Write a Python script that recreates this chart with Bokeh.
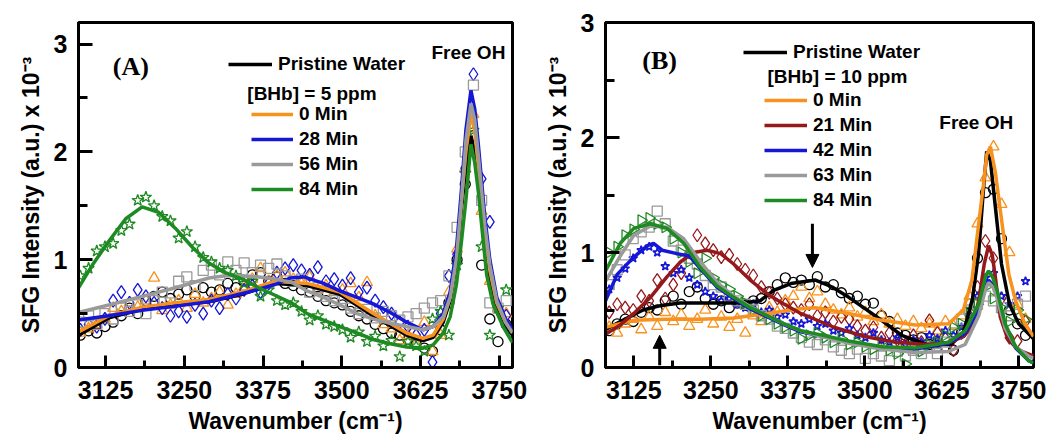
import numpy as np
from bokeh.plotting import figure
from bokeh.layouts import row
from bokeh.models import Range1d, FixedTicker, Legend, LegendItem, Label, Arrow, NormalHead
from bokeh.embed import file_html
from bokeh.resources import INLINE

# ---------------- data ----------------
X_TICKS = [3125, 3250, 3375, 3500, 3625, 3750]
X_MINOR = [3187.5, 3312.5, 3437.5, 3562.5, 3687.5]
Y_TICKS = [0, 1, 2, 3]
Y_MINOR = [0.5, 1.5, 2.5]

# measured points (shared wavenumber grid)
SX = [3085, 3098, 3111, 3124, 3137, 3150, 3163, 3176, 3189, 3202,
      3215, 3228, 3241, 3254, 3267, 3280, 3293, 3306, 3319, 3332,
      3345, 3358, 3371, 3384, 3397, 3410, 3423, 3436, 3449, 3462,
      3475, 3488, 3501, 3514, 3527, 3540, 3553, 3566, 3579, 3592,
      3605, 3618, 3631, 3644, 3657, 3670, 3683, 3696, 3709, 3722,
      3735, 3748, 3761]

# Panel A : [BHb] = 5 ppm
A_PRISTINE = [0.30, 0.34, 0.32, 0.38, 0.42, 0.48, 0.55, 0.50, 0.62, 0.66,
              0.70, 0.64, 0.68, 0.72, 0.66, 0.74, 0.70, 0.72, 0.78, 0.74,
              0.80, 0.86, 0.88, 0.80, 0.84, 0.78, 0.76, 0.72, 0.70, 0.66,
              0.62, 0.60, 0.58, 0.52, 0.48, 0.45, 0.40, 0.36, 0.32, 0.30,
              0.26, 0.22, 0.18, 0.15, 0.35, 0.60, 1.00, 1.70, 2.15, 0.95,
              0.45, 0.24, 0.40]
A_0MIN = [0.32, 0.36, 0.40, 0.45, 0.55, 0.52, 0.60, 0.56, 0.62, 0.83,
          0.53, 0.58, 0.62, 0.55, 0.68, 0.60, 0.64, 0.70, 0.58, 0.68,
          0.75, 0.82, 0.92, 0.80, 0.85, 0.88, 0.82, 0.78, 0.84, 0.72,
          0.76, 0.70, 0.72, 0.78, 0.65, 0.79, 0.48, 0.40, 0.36, 0.25,
          0.30, 0.22, 0.42, 0.15, 0.30, 0.70, 1.10, 1.85, 2.35, 1.45,
          0.80, 0.55, 0.50]
A_28MIN = [0.35, 0.40, 0.38, 0.45, 0.62, 0.70, 0.60, 0.72, 0.66, 0.60,
           0.55, 0.48, 0.52, 0.47, 0.58, 0.50, 0.62, 0.55, 0.68, 0.64,
           0.72, 0.76, 0.70, 0.78, 0.88, 0.92, 0.95, 0.90, 0.86, 0.93,
           0.80, 0.82, 0.76, 0.83, 0.70, 0.74, 0.62, 0.56, 0.50, 0.42,
           0.38, 0.30, 0.35, 0.05, 0.50, 0.85, 1.05, 1.85, 2.72, 1.75,
           1.35, 0.55, 0.48]
A_56MIN = [0.42, 0.48, 0.40, 0.50, 0.45, 0.55, 0.52, 0.58, 0.50, 0.62,
           0.70, 0.60, 0.80, 0.84, 0.76, 0.90, 0.95, 0.86, 0.98, 0.90,
           0.97, 0.88, 0.95, 0.92, 0.96, 0.85, 0.80, 0.82, 0.70, 0.74,
           0.66, 0.62, 0.64, 0.55, 0.50, 0.54, 0.46, 0.52, 0.48, 0.44,
           0.47, 0.50, 0.55, 0.60, 0.62, 0.85, 1.30, 2.00, 2.62, 1.55,
           0.60, 0.55, 0.62]
A_84MIN = [0.85, 0.92, 1.08, 1.12, 1.15, 1.27, 1.33, 1.55, 1.58, 1.50,
           1.40, 1.36, 1.20, 1.26, 1.12, 1.02, 0.98, 0.92, 0.90, 0.85,
           0.78, 0.80, 0.66, 0.72, 0.62, 0.58, 0.60, 0.52, 0.44, 0.48,
           0.40, 0.38, 0.35, 0.28, 0.33, 0.24, 0.29, 0.20, 0.25, 0.10,
           0.24, 0.20, 0.15, 0.45, 0.52, 0.30, 0.95, 1.80, 2.20, 1.12,
           0.30, 0.55, 0.72]

# Panel A fitted curves
AF_X1 = [3082, 3130, 3183, 3236, 3289, 3342, 3394, 3445, 3497, 3550,
         3603, 3629, 3645, 3661, 3672, 3682, 3690, 3697, 3705, 3711,
         3717, 3727, 3735, 3746, 3760, 3771]
AF_PRISTINE = [0.30, 0.46, 0.54, 0.58, 0.61, 0.68, 0.78, 0.76, 0.68, 0.48,
               0.30, 0.25, 0.28, 0.42, 0.62, 0.97, 1.48, 1.85, 2.15, 2.00,
               1.70, 1.15, 0.82, 0.55, 0.38, 0.30]
AF_0MIN = [0.33, 0.48, 0.56, 0.60, 0.63, 0.70, 0.80, 0.78, 0.70, 0.50,
           0.32, 0.27, 0.30, 0.45, 0.65, 1.00, 1.55, 2.00, 2.35, 2.20,
           1.85, 1.25, 0.90, 0.60, 0.42, 0.33]
AF_X28 = [3082, 3130, 3183, 3225, 3289, 3352, 3394, 3418, 3440, 3471,
          3497, 3524, 3550, 3577, 3603, 3629, 3645, 3661, 3672, 3682,
          3690, 3697, 3705, 3711, 3717, 3727, 3735, 3746, 3760, 3771]
AF_28MIN = [0.44, 0.48, 0.53, 0.56, 0.61, 0.70, 0.77, 0.83, 0.84, 0.78,
            0.71, 0.65, 0.59, 0.51, 0.42, 0.35, 0.38, 0.50, 0.70, 1.10,
            1.65, 2.20, 2.57, 2.40, 2.05, 1.40, 1.00, 0.65, 0.45, 0.35]
AF_X56 = [3082, 3130, 3183, 3236, 3289, 3315, 3342, 3368, 3394, 3420,
          3445, 3471, 3497, 3524, 3550, 3577, 3603, 3629, 3645, 3661,
          3672, 3682, 3690, 3697, 3705, 3711, 3717, 3727, 3735, 3746,
          3760, 3771]
AF_56MIN = [0.51, 0.58, 0.66, 0.74, 0.83, 0.85, 0.85, 0.84, 0.82, 0.79,
            0.71, 0.65, 0.58, 0.50, 0.45, 0.41, 0.38, 0.35, 0.38, 0.47,
            0.65, 1.01, 1.55, 2.10, 2.45, 2.30, 1.95, 1.32, 0.95, 0.62,
            0.42, 0.32]
AF_X84 = [3082, 3104, 3130, 3157, 3183, 3209, 3236, 3262, 3289, 3315,
          3342, 3368, 3394, 3420, 3445, 3471, 3497, 3524, 3550, 3577,
          3603, 3629, 3645, 3661, 3672, 3682, 3690, 3697, 3705, 3711,
          3717, 3722, 3730, 3740, 3756, 3771]
AF_84MIN = [0.74, 0.95, 1.17, 1.38, 1.49, 1.44, 1.29, 1.12, 0.97, 0.88,
            0.82, 0.74, 0.67, 0.60, 0.50, 0.44, 0.38, 0.32, 0.26, 0.22,
            0.19, 0.18, 0.21, 0.32, 0.47, 0.77, 1.17, 1.55, 2.07, 1.90,
            1.62, 1.32, 0.86, 0.59, 0.38, 0.23]

# Panel B : [BHb] = 10 ppm
B_PRISTINE = [0.32, 0.38, 0.42, 0.40, 0.48, 0.52, 0.50, 0.58, 0.62, 0.55,
              0.66, 0.70, 0.60, 0.55, 0.58, 0.52, 0.56, 0.54, 0.58, 0.60,
              0.66, 0.72, 0.78, 0.74, 0.76, 0.72, 0.79, 0.70, 0.72, 0.65,
              0.60, 0.62, 0.55, 0.56, 0.45, 0.40, 0.30, 0.28, 0.24, 0.26,
              0.20, 0.22, 0.18, 0.15, 0.30, 0.55, 0.95, 1.52, 1.55, 1.12,
              0.50, 0.38, 0.28]
B_0MIN = [0.35, 0.30, 0.38, 0.42, 0.33, 0.44, 0.36, 0.48, 0.40, 0.46,
          0.36, 0.42, 0.50, 0.38, 0.44, 0.35, 0.42, 0.30, 0.45, 0.40,
          0.52, 0.48, 0.58, 0.62, 0.70, 0.60, 0.66, 0.55, 0.50, 0.46,
          0.52, 0.44, 0.48, 0.40, 0.46, 0.38, 0.42, 0.36, 0.40, 0.34,
          0.38, 0.32, 0.40, 0.36, 0.45, 0.62, 1.25, 1.65, 1.92, 1.42,
          1.00, 0.55, 0.42]
B_21MIN = [0.48, 0.55, 0.52, 0.50, 0.62, 0.58, 0.76, 0.60, 0.72, 0.82,
           1.00, 1.15, 1.08, 1.02, 0.96, 0.98, 0.90, 0.85, 0.80, 0.70,
           0.65, 0.60, 0.55, 0.52, 0.50, 0.55, 0.45, 0.48, 0.40, 0.44,
           0.42, 0.36, 0.32, 0.35, 0.26, 0.30, 0.24, 0.20, 0.28, 0.22,
           0.41, 0.30, 0.25, 0.15, 0.30, 0.45, 0.70, 1.10, 0.95, 0.60,
           0.26, 0.23, 0.40]
B_42MIN = [0.68, 0.78, 0.86, 0.95, 1.02, 1.05, 1.00, 0.88, 0.82, 0.85,
           0.78, 0.72, 0.66, 0.62, 0.58, 0.60, 0.55, 0.52, 0.55, 0.48,
           0.50, 0.44, 0.46, 0.40, 0.38, 0.42, 0.36, 0.38, 0.32, 0.30,
           0.34, 0.28, 0.26, 0.30, 0.24, 0.22, 0.26, 0.20, 0.24, 0.22,
           0.28, 0.25, 0.32, 0.28, 0.35, 0.45, 0.62, 0.78, 0.82, 0.62,
           0.55, 0.62, 0.75]
B_63MIN = [0.72, 0.85, 0.98, 1.12, 1.18, 1.22, 1.36, 1.25, 1.10, 1.02,
           0.95, 0.90, 0.80, 0.72, 0.70, 0.62, 0.58, 0.55, 0.50, 0.45,
           0.42, 0.36, 0.34, 0.30, 0.26, 0.22, 0.20, 0.24, 0.18, 0.15,
           0.12, 0.16, 0.08, 0.12, 0.10, 0.06, 0.14, 0.10, 0.15, 0.12,
           0.18, 0.12, 0.22, 0.30, 0.42, 0.50, 0.55, 0.62, 0.58, 0.52,
           0.45, 0.55, 0.62]
B_84MIN = [1.00, 1.05, 1.15, 1.20, 1.28, 1.30, 1.25, 1.22, 1.12, 1.00,
           0.92, 0.82, 0.95, 0.78, 0.72, 0.68, 0.62, 0.56, 0.50, 0.45,
           0.42, 0.38, 0.35, 0.32, 0.25, 0.28, 0.30, 0.26, 0.22, 0.25,
           0.20, 0.22, 0.18, 0.16, 0.22, 0.15, 0.12, 0.03, 0.18, 0.14,
           0.20, 0.22, 0.28, 0.35, 0.38, 0.48, 0.55, 0.70, 0.60, 0.52,
           0.40, 0.50, 0.42]

# Panel B fitted curves
BF_XP = [3079, 3110, 3140, 3170, 3200, 3250, 3300, 3330, 3352, 3380,
         3420, 3447, 3474, 3501, 3530, 3560, 3600, 3640, 3660, 3675,
         3685, 3692, 3698, 3704, 3712, 3722, 3735, 3750, 3774]
BF_PRISTINE = [0.33, 0.42, 0.50, 0.54, 0.56, 0.56, 0.56, 0.58, 0.67, 0.73,
               0.76, 0.70, 0.61, 0.51, 0.40, 0.28, 0.20, 0.20, 0.30, 0.60,
               1.00, 1.50, 1.88, 1.80, 1.40, 0.90, 0.55, 0.38, 0.25]
BF_X0 = [3079, 3125, 3179, 3233, 3287, 3342, 3396, 3420, 3474, 3528,
         3582, 3636, 3660, 3674, 3685, 3693, 3698, 3704, 3712, 3723,
         3734, 3745, 3760, 3774]
BF_0MIN = [0.35, 0.41, 0.42, 0.42, 0.43, 0.47, 0.51, 0.52, 0.47, 0.41,
           0.37, 0.38, 0.50, 0.76, 1.25, 1.60, 1.85, 1.92, 1.70, 1.25,
           0.81, 0.58, 0.38, 0.27]
BF_X21 = [3079, 3103, 3125, 3152, 3179, 3201, 3222, 3244, 3266, 3287,
          3314, 3342, 3363, 3396, 3450, 3500, 3550, 3600, 3640, 3660,
          3674, 3685, 3694, 3701, 3707, 3712, 3720, 3732, 3750, 3774]
BF_21MIN = [0.29, 0.37, 0.47, 0.61, 0.79, 0.92, 1.00, 1.02, 0.99, 0.90,
            0.76, 0.64, 0.57, 0.47, 0.35, 0.27, 0.22, 0.20, 0.22, 0.27,
            0.35, 0.58, 0.90, 1.06, 0.98, 0.79, 0.44, 0.25, 0.15, 0.10]
BF_X42 = [3079, 3098, 3125, 3147, 3157, 3171, 3195, 3215, 3233, 3260,
          3287, 3314, 3342, 3369, 3396, 3423, 3474, 3528, 3582, 3636,
          3663, 3685, 3696, 3701, 3708, 3715, 3728, 3745, 3766, 3774]
BF_42MIN = [0.58, 0.81, 0.96, 1.06, 1.08, 1.02, 0.99, 0.97, 0.86, 0.70,
            0.60, 0.51, 0.44, 0.37, 0.31, 0.28, 0.22, 0.17, 0.16, 0.21,
            0.30, 0.50, 0.72, 0.76, 0.72, 0.62, 0.35, 0.17, 0.06, 0.04]
BF_X63 = [3079, 3103, 3125, 3152, 3179, 3206, 3233, 3260, 3287, 3314,
          3342, 3369, 3396, 3423, 3474, 3528, 3582, 3636, 3663, 3685,
          3696, 3701, 3708, 3715, 3728, 3745, 3766, 3774]
BF_63MIN = [0.75, 0.97, 1.15, 1.23, 1.22, 1.12, 0.92, 0.74, 0.62, 0.53,
            0.45, 0.38, 0.32, 0.28, 0.21, 0.16, 0.13, 0.14, 0.20, 0.45,
            0.68, 0.74, 0.70, 0.60, 0.34, 0.18, 0.10, 0.08]
BF_84MIN = [0.84, 1.08, 1.21, 1.25, 1.21, 1.08, 0.87, 0.71, 0.61, 0.52,
            0.45, 0.38, 0.32, 0.29, 0.23, 0.18, 0.17, 0.22, 0.32, 0.55,
            0.79, 0.84, 0.78, 0.67, 0.38, 0.18, 0.06, 0.04]

# ---------------- style ----------------
BLACK = "#000000"
ORANGE = "#F7921E"
BLUE = "#1616D6"
GRAY = "#9A9A9A"
GREEN = "#1E8A22"
DARKRED = "#94191B"
FONT = "Liberation Sans"
LW = 3.5


def make_fig(width, xr, yr, left, right, top, bottom):
    p = figure(width=width, height=444, x_range=Range1d(*xr), y_range=Range1d(*yr),
               output_backend="svg", toolbar_location=None,
               min_border_left=left, min_border_right=right,
               min_border_top=top, min_border_bottom=bottom)
    p.background_fill_color = "white"
    p.border_fill_color = "white"
    p.xgrid.visible = False
    p.ygrid.visible = False
    p.outline_line_color = "black"
    p.outline_line_width = 3
    p.outline_line_alpha = 1
    p.xaxis.ticker = FixedTicker(ticks=X_TICKS, minor_ticks=X_MINOR)
    p.yaxis.ticker = FixedTicker(ticks=Y_TICKS, minor_ticks=Y_MINOR)
    p.xaxis.axis_label = "Wavenumber (cm\u207b\u00b9)"
    p.yaxis.axis_label = "SFG Intensity (a.u.) x 10\u207b\u00b3"
    for ax in (p.xaxis[0], p.yaxis[0]):
        ax.axis_line_width = 3
        ax.major_tick_line_width = 3
        ax.minor_tick_line_width = 3
        ax.major_tick_out = 0
        ax.minor_tick_out = 0
        ax.major_label_text_font = FONT
        ax.major_label_text_font_style = "bold"
        ax.major_label_text_font_size = "25px"
        ax.major_label_text_color = "black"
        ax.axis_label_text_font = FONT
        ax.axis_label_text_font_style = "bold"
        ax.axis_label_text_font_size = "23px"
        ax.axis_label_text_color = "black"
    p.xaxis.major_tick_in = 12
    p.xaxis.minor_tick_in = 7
    p.yaxis.major_tick_in = 14
    p.yaxis.minor_tick_in = 9
    p.xaxis.major_label_standoff = 13
    p.xaxis.axis_label_standoff = 6
    p.yaxis.major_label_standoff = 11
    p.yaxis.axis_label_standoff = 7
    return p


def style_legend(lg, gw):
    lg.glyph_width = gw
    lg.glyph_height = 20
    lg.label_height = 20
    lg.label_standoff = 6
    lg.spacing = 3
    lg.padding = 0
    lg.margin = 0
    lg.border_line_alpha = 0
    lg.background_fill_alpha = 0
    lg.label_text_font = FONT
    lg.label_text_font_style = "bold"
    lg.label_text_font_size = "19px"
    lg.label_text_color = "black"


def text_label(p, x, y, txt, size="19px", font=FONT, align="left"):
    p.add_layout(Label(x=x, y=y, text=txt, text_font=font, text_font_style="bold",
                       text_font_size=size, text_align=align, text_baseline="middle",
                       text_color="black"))


def open_marks(p, ys, marker, color, size, angle=0.0, lw=1.3):
    p.scatter(SX, ys, marker=marker, size=size, angle=angle, fill_color=None,
              line_color=color, line_width=lw)


# ---------------- panel A ----------------
pA = make_fig(540, (3082, 3771), (0, 3.2), 78, 28, 15, 76)
open_marks(pA, A_PRISTINE, "circle", BLACK, 10)
open_marks(pA, A_0MIN, "triangle", ORANGE, 11)
open_marks(pA, A_28MIN, "diamond", BLUE, 13)
open_marks(pA, A_56MIN, "square", GRAY, 10)
open_marks(pA, A_84MIN, "star", GREEN, 12)
rA_p = pA.line(AF_X1, AF_PRISTINE, line_color=BLACK, line_width=LW)
rA_0 = pA.line(AF_X1, AF_0MIN, line_color=ORANGE, line_width=LW)
rA_28 = pA.line(AF_X28, AF_28MIN, line_color=BLUE, line_width=LW)
rA_56 = pA.line(AF_X56, AF_56MIN, line_color=GRAY, line_width=LW)
rA_84 = pA.line(AF_X84, AF_84MIN, line_color=GREEN, line_width=LW)

lgA1 = Legend(items=[LegendItem(label="Pristine Water", renderers=[rA_p])], location=(150, 292))
style_legend(lgA1, 44)
lgA2 = Legend(items=[LegendItem(label="0 Min", renderers=[rA_0]),
                     LegendItem(label="28 Min", renderers=[rA_28]),
                     LegendItem(label="56 Min", renderers=[rA_56]),
                     LegendItem(label="84 Min", renderers=[rA_84])], location=(173, 167))
style_legend(lgA2, 42)
pA.add_layout(lgA1)
pA.add_layout(lgA2)
text_label(pA, 3350, 2.54, "[BHb] = 5 ppm")
text_label(pA, 3701, 2.92, "Free OH", align="center")
text_label(pA, 3165, 2.79, "(A)", size="26px", font="Liberation Serif", align="center")

# ---------------- panel B ----------------
pB = make_fig(507, (3079, 3774), (0, 3.0), 65, 14, 22, 77)
open_marks(pB, B_PRISTINE, "circle", BLACK, 10)
open_marks(pB, B_0MIN, "triangle", ORANGE, 11)
open_marks(pB, B_21MIN, "diamond", DARKRED, 13)
open_marks(pB, B_42MIN, "star", BLUE, 9, lw=1.6)
open_marks(pB, B_63MIN, "square", GRAY, 10)
open_marks(pB, B_84MIN, "triangle", GREEN, 11, angle=-np.pi / 2)
rB_p = pB.line(BF_XP, BF_PRISTINE, line_color=BLACK, line_width=LW)
rB_0 = pB.line(BF_X0, BF_0MIN, line_color=ORANGE, line_width=LW)
rB_21 = pB.line(BF_X21, BF_21MIN, line_color=DARKRED, line_width=LW)
rB_42 = pB.line(BF_X42, BF_42MIN, line_color=BLUE, line_width=LW)
rB_63 = pB.line(BF_X63, BF_63MIN, line_color=GRAY, line_width=LW)
rB_84 = pB.line(BF_X63, BF_84MIN, line_color=GREEN, line_width=LW)

lgB1 = Legend(items=[LegendItem(label="Pristine Water", renderers=[rB_p])], location=(138, 304))
style_legend(lgB1, 44)
lgB2 = Legend(items=[LegendItem(label="0 Min", renderers=[rB_0]),
                     LegendItem(label="21 Min", renderers=[rB_21]),
                     LegendItem(label="42 Min", renderers=[rB_42]),
                     LegendItem(label="63 Min", renderers=[rB_63]),
                     LegendItem(label="84 Min", renderers=[rB_84])], location=(159, 156))
style_legend(lgB2, 43)
pB.add_layout(lgB1)
pB.add_layout(lgB2)
text_label(pB, 3342, 2.53, "[BHb] = 10 ppm")
text_label(pB, 3681, 2.13, "Free OH", align="center")
text_label(pB, 3167, 2.67, "(B)", size="26px", font="Liberation Serif", align="center")

pB.add_layout(Arrow(end=NormalHead(size=13, fill_color="black", line_color="black"),
                    x_start=3415, y_start=1.25, x_end=3415, y_end=0.87,
                    line_width=3, line_color="black"))
pB.add_layout(Arrow(end=NormalHead(size=13, fill_color="black", line_color="black"),
                    x_start=3167, y_start=0.02, x_end=3167, y_end=0.28,
                    line_width=3, line_color="black"))

layout = row(pA, pB)
open("out.html", "w").write(file_html(layout, INLINE))
